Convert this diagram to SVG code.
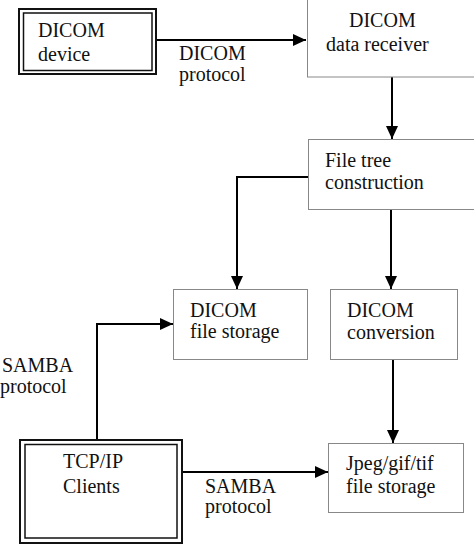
<svg xmlns="http://www.w3.org/2000/svg" width="474" height="551" viewBox="0 0 474 551">
<style>
text{font-family:"Liberation Serif","Times New Roman",serif;font-size:20px;fill:#111}
.box{fill:#fff;stroke:#888;stroke-width:1}
.outer{fill:none;stroke:#111;stroke-width:2}
.inner{fill:#fff;stroke:#111;stroke-width:1.5}
.con{fill:none;stroke:#000;stroke-width:2}
</style>
<defs>
<marker id="ah" markerUnits="userSpaceOnUse" markerWidth="13" markerHeight="12" refX="13" refY="6" orient="auto">
<path d="M0,0 L13,6 L0,12 z" fill="#000"/>
</marker>
</defs>
<rect width="474" height="551" fill="#fff"/>
<g id="connectors">
<path class="con" d="M155,40 H306" marker-end="url(#ah)"/>
<path class="con" d="M392,77 V139" marker-end="url(#ah)"/>
<path class="con" d="M308,177 H237 V289" marker-end="url(#ah)"/>
<path class="con" d="M391,209 V289" marker-end="url(#ah)"/>
<path class="con" d="M393,359 V443" marker-end="url(#ah)"/>
<path class="con" d="M97,439 V324 H173" marker-end="url(#ah)"/>
<path class="con" d="M182,472 H328" marker-end="url(#ah)"/>
</g>
<g id="dicom-device">
<rect class="outer" x="19" y="9" width="137" height="65"/>
<rect class="inner" x="23.5" y="13" width="128.5" height="57.5"/>
<text x="38" y="37">DICOM</text>
<text x="38" y="61">device</text>
</g>
<g id="label-dicom-protocol">
<text x="179" y="60">DICOM</text>
<text x="179" y="81">protocol</text>
</g>
<g id="data-receiver">
<rect class="box" x="307.5" y="-1" width="167" height="78"/>
<text x="349" y="27">DICOM</text>
<text x="326" y="51">data receiver</text>
</g>
<g id="file-tree">
<rect class="box" x="308.5" y="139.5" width="167" height="70"/>
<text x="325" y="167">File tree</text>
<text x="325" y="189">construction</text>
</g>
<g id="file-storage">
<rect class="box" x="173.5" y="289.5" width="134" height="70"/>
<text x="190" y="317">DICOM</text>
<text x="190" y="338">file storage</text>
</g>
<g id="conversion">
<rect class="box" x="330.5" y="289.5" width="127" height="70"/>
<text x="347" y="317">DICOM</text>
<text x="347" y="339">conversion</text>
</g>
<g id="label-samba-left">
<text x="2" y="372">SAMBA</text>
<text x="0" y="393">protocol</text>
</g>
<g id="tcpip-clients">
<rect class="outer" x="20" y="440" width="162" height="103"/>
<rect class="inner" x="25" y="444.5" width="152" height="93.5"/>
<text x="63" y="468">TCP/IP</text>
<text x="63" y="493">Clients</text>
</g>
<g id="label-samba-bottom">
<text x="205" y="493">SAMBA</text>
<text x="205" y="513">protocol</text>
</g>
<g id="jpeg-storage">
<rect class="box" x="328.5" y="443.5" width="135" height="69"/>
<text x="346" y="470">Jpeg/gif/tif</text>
<text x="346" y="493">file storage</text>
</g>
</svg>
